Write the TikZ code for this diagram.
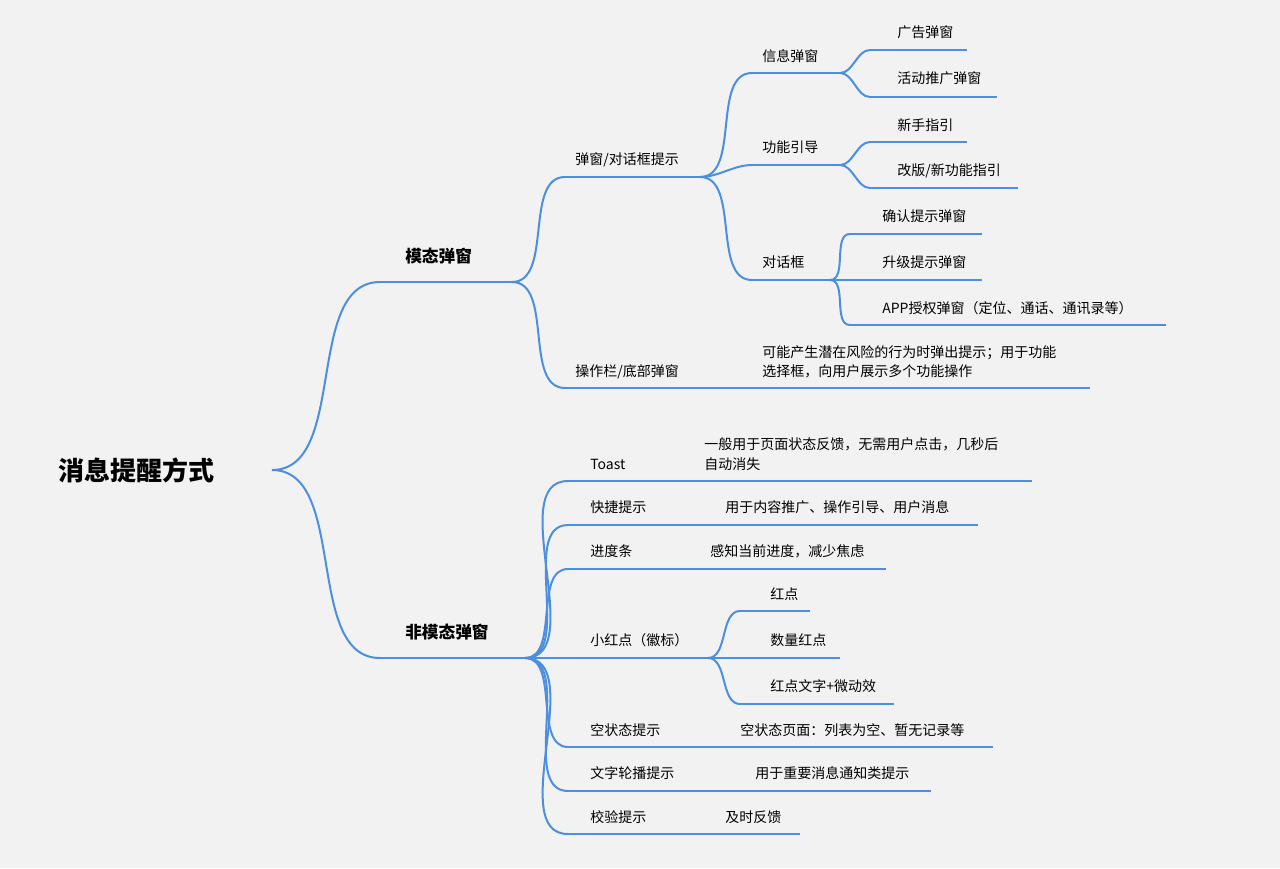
\documentclass[tikz,border=0pt]{standalone}
\usepackage{fontspec}
\setmainfont{Noto Sans CJK SC}
\begin{document}
\begin{tikzpicture}[x=0.75pt,y=-0.75pt,
  ln/.style={draw=linec,line width=1.5pt},
  br/.style={ln,out=0,in=180,looseness=0.9},
  tx/.style={anchor=base west,inner sep=0pt,font=\fontsize{10.5}{14}\selectfont},
  bt/.style={tx,font=\fontsize{12.5}{16}\selectfont\bfseries}]
\definecolor{linec}{HTML}{4A8FE0}
\definecolor{bgc}{HTML}{F2F2F2}
\fill[bgc] (0,0) rectangle (1280,868);
\useasboundingbox (0,0) rectangle (1280,868);
\newcommand\seg[4]{\coordinate (#1s) at (#2,#4);\coordinate (#1e) at (#3,#4);\draw[ln] (#1s)--(#1e);}
% root
\node[anchor=west,inner sep=0pt,font=\fontsize{19.5}{24}\selectfont\bfseries] (root) at (58,470) {消息提醒方式};
\coordinate (roote) at (272,470);
% level 1
\seg{m}{380}{512}{282}
\node[bt] (mt) at (405,262) {模态弹窗};
\seg{n}{380}{525}{658}
\node[bt] (nt) at (405,638) {非模态弹窗};
\draw[br] (roote) to (ms); \draw[br] (roote) to (ns);
% modal children
\seg{a}{565}{700}{177}
\node[tx] (at) at (575,164) {弹窗/对话框提示};
\seg{b}{565}{1090}{388}
\node[tx] (bt) at (575,376) {操作栏/底部弹窗};
\node[tx] (bd1) at (762,357) {可能产生潜在风险的行为时弹出提示；用于功能};
\node[tx] (bd2) at (762,376) {选择框，向用户展示多个功能操作};
\draw[br] (me) to (as); \draw[br] (me) to (bs);
% a children
\seg{c}{752}{840}{73}  \node[tx] (ct) at (762,61) {信息弹窗};
\seg{d}{752}{840}{165} \node[tx] (dt) at (762,152) {功能引导};
\seg{e}{752}{830}{280} \node[tx] (et) at (762,267) {对话框};
\draw[br] (ae) to (cs); \draw[br] (ae) to (ds); \draw[br] (ae) to (es);
\seg{c1}{870}{967}{50} \node[tx] (c1t) at (897,37) {广告弹窗};
\seg{c2}{870}{997}{97} \node[tx] (c2t) at (897,83) {活动推广弹窗};
\draw[br] (ce) to (c1s); \draw[br] (ce) to (c2s);
\seg{d1}{870}{967}{142} \node[tx] (d1t) at (897,130) {新手指引};
\seg{d2}{870}{1018}{188} \node[tx] (d2t) at (897,175) {改版/新功能指引};
\draw[br] (de) to (d1s); \draw[br] (de) to (d2s);
\seg{e1}{850}{982}{234} \node[tx] (e1t) at (882,221) {确认提示弹窗};
\seg{e2}{850}{982}{280} \node[tx] (e2t) at (882,267) {升级提示弹窗};
\seg{e3}{850}{1166}{325} \node[tx] (e3t) at (882,313) {APP授权弹窗（定位、通话、通讯录等）};
\draw[br] (ee) to (e1s); \draw[br] (ee) to (e2s); \draw[br] (ee) to (e3s);
% non-modal children
\seg{f}{568}{1032}{481} \node[tx] (ft) at (590,469) {Toast};
\node[tx] (fd1) at (704,449) {一般用于页面状态反馈，无需用户点击，几秒后};
\node[tx] (fd2) at (704,469) {自动消失};
\seg{g}{568}{978}{525} \node[tx] (gt) at (590,512) {快捷提示};
\node[tx] (gd) at (725,512) {用于内容推广、操作引导、用户消息};
\seg{h}{568}{886}{569} \node[tx] (ht) at (590,556) {进度条};
\node[tx] (hd) at (710,556) {感知当前进度，减少焦虑};
\seg{i}{568}{708}{658} \node[tx] (it) at (590,645) {小红点（徽标）};
\seg{j}{568}{993}{747} \node[tx] (jt) at (590,735) {空状态提示};
\node[tx] (jd) at (740,735) {空状态页面：列表为空、暂无记录等};
\seg{k}{568}{931}{791} \node[tx] (kt) at (590,778) {文字轮播提示};
\node[tx] (kd) at (755,778) {用于重要消息通知类提示};
\seg{l}{568}{800}{834} \node[tx] (lt) at (590,822) {校验提示};
\node[tx] (ld) at (725,822) {及时反馈};
\foreach \t in {f,g,h,i,j,k,l} \draw[br] (ne) to (\t s);
\seg{i1}{740}{810}{611} \node[tx] (i1t) at (770,599) {红点};
\seg{i2}{740}{840}{658} \node[tx] (i2t) at (770,645) {数量红点};
\seg{i3}{740}{894}{704} \node[tx] (i3t) at (770,691) {红点文字+微动效};
\draw[br] (ie) to (i1s); \draw[br] (ie) to (i2s); \draw[br] (ie) to (i3s);
\end{tikzpicture}
\end{document}
